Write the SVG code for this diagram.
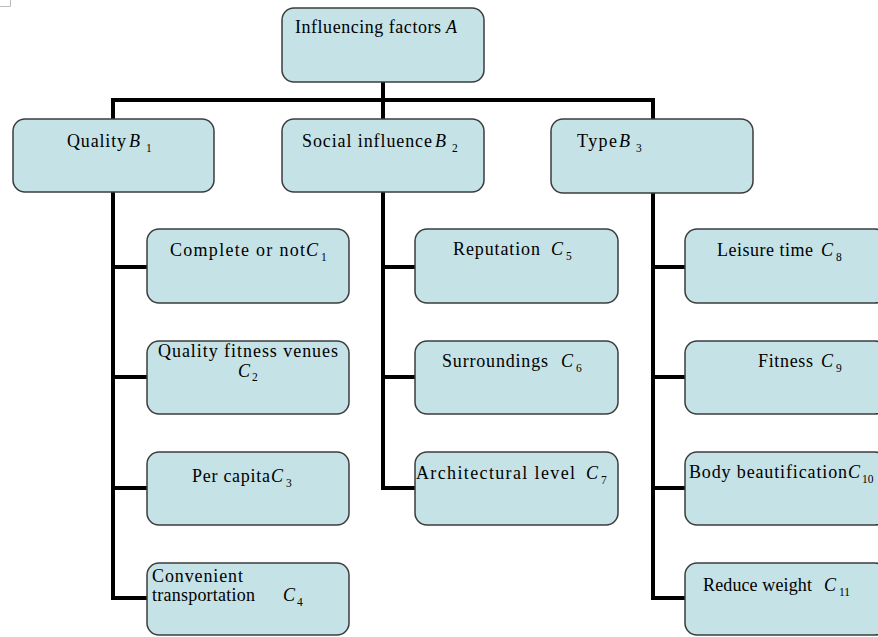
<svg xmlns="http://www.w3.org/2000/svg" width="878" height="637" viewBox="0 0 878 637">
<style>
.box{fill:#c5e2e6;stroke:#3c3c3c;stroke-width:1.5}
.t{font-family:"Liberation Serif","Times New Roman",serif;font-size:18px;fill:#000}
.v{font-family:"Liberation Serif","Times New Roman",serif;font-size:18px;font-style:italic;fill:#000}
.s{font-family:"Liberation Serif","Times New Roman",serif;font-size:11.5px;fill:#000}
.c{fill:none;stroke:#000;stroke-width:4;stroke-linecap:square}
</style>
<rect width="878" height="637" fill="#fff"/>
<path d="M0 6.5H10.5V0" fill="none" stroke="#bbb" stroke-width="1"/>
<g id="connectors">
<path class="c" d="M383 82V119M113 100H653M113 100V119M653 100V119"/>
<path class="c" d="M113 192V598M113 267H147M113 377H147M113 488H147M113 598H147"/>
<path class="c" d="M383 192V488M383 267H415M383 377H415M383 488H415"/>
<path class="c" d="M653 193V598M653 267H685M653 377H685M653 488H685M653 598H685"/>
</g>
<g id="A">
<rect class="box" x="282" y="8" width="202" height="74" rx="12"/>
<text class="t" x="295" y="33" textLength="146" lengthAdjust="spacing">Influencing factors</text>
<text class="v" x="446" y="33">A</text>
</g>
<g id="B1">
<rect class="box" x="13" y="119" width="201" height="73" rx="12"/>
<text class="t" x="67" y="147" textLength="59" lengthAdjust="spacing">Quality</text>
<text class="v" x="129" y="147">B</text><text class="s" x="146" y="152">1</text>
</g>
<g id="B2">
<rect class="box" x="282" y="119" width="202" height="73" rx="12"/>
<text class="t" x="302" y="147" textLength="130" lengthAdjust="spacing">Social influence</text>
<text class="v" x="435" y="147">B</text><text class="s" x="452" y="152">2</text>
</g>
<g id="B3">
<rect class="box" x="551" y="119" width="202" height="74" rx="12"/>
<text class="t" x="577" y="147" textLength="40" lengthAdjust="spacing">Type</text>
<text class="v" x="619" y="147">B</text><text class="s" x="636" y="152">3</text>
</g>
<g id="C1">
<rect class="box" x="147" y="229" width="202" height="74" rx="12"/>
<text class="t" x="170" y="256" textLength="135" lengthAdjust="spacing">Complete or not</text>
<text class="v" x="306" y="256">C</text><text class="s" x="321" y="261">1</text>
</g>
<g id="C2">
<rect class="box" x="147" y="341" width="202" height="73" rx="12"/>
<text class="t" x="158" y="357" textLength="180" lengthAdjust="spacing">Quality fitness venues</text>
<text class="v" x="238" y="377">C</text><text class="s" x="252" y="381">2</text>
</g>
<g id="C3">
<rect class="box" x="147" y="452" width="202" height="73" rx="12"/>
<text class="t" x="192" y="482" textLength="78" lengthAdjust="spacing">Per capita</text>
<text class="v" x="271" y="482">C</text><text class="s" x="286" y="487">3</text>
</g>
<g id="C4">
<rect class="box" x="147" y="563" width="202" height="72" rx="12"/>
<text class="t" x="152" y="582" textLength="91" lengthAdjust="spacing">Convenient</text>
<text class="t" x="152" y="601" textLength="103" lengthAdjust="spacing">transportation</text>
<text class="v" x="283" y="601">C</text><text class="s" x="297" y="606">4</text>
</g>
<g id="C5">
<rect class="box" x="415" y="229" width="203" height="74" rx="12"/>
<text class="t" x="453" y="255" textLength="87" lengthAdjust="spacing">Reputation</text>
<text class="v" x="551" y="255">C</text><text class="s" x="566" y="260">5</text>
</g>
<g id="C6">
<rect class="box" x="415" y="341" width="203" height="73" rx="12"/>
<text class="t" x="442" y="367" textLength="106" lengthAdjust="spacing">Surroundings</text>
<text class="v" x="561" y="367">C</text><text class="s" x="576" y="372">6</text>
</g>
<g id="C7">
<rect class="box" x="415" y="452" width="203" height="73" rx="12"/>
<text class="t" x="416" y="479" textLength="159" lengthAdjust="spacing">Architectural level</text>
<text class="v" x="586" y="479">C</text><text class="s" x="601" y="484">7</text>
</g>
<g id="C8">
<rect class="box" x="685" y="229" width="202" height="74" rx="12"/>
<text class="t" x="717" y="256" textLength="96" lengthAdjust="spacing">Leisure time</text>
<text class="v" x="821" y="256">C</text><text class="s" x="836" y="261">8</text>
</g>
<g id="C9">
<rect class="box" x="685" y="341" width="202" height="73" rx="12"/>
<text class="t" x="758" y="367" textLength="55" lengthAdjust="spacing">Fitness</text>
<text class="v" x="821" y="367">C</text><text class="s" x="836" y="372">9</text>
</g>
<g id="C10">
<rect class="box" x="685" y="452" width="202" height="73" rx="12"/>
<text class="t" x="689" y="478" textLength="158" lengthAdjust="spacing">Body beautification</text>
<text class="v" x="848" y="478">C</text><text class="s" x="862" y="483">10</text>
</g>
<g id="C11">
<rect class="box" x="685" y="563" width="202" height="72" rx="12"/>
<text class="t" x="703" y="591" textLength="109" lengthAdjust="spacing">Reduce weight</text>
<text class="v" x="824" y="591">C</text><text class="s" x="839" y="596">11</text>
</g>
</svg>
